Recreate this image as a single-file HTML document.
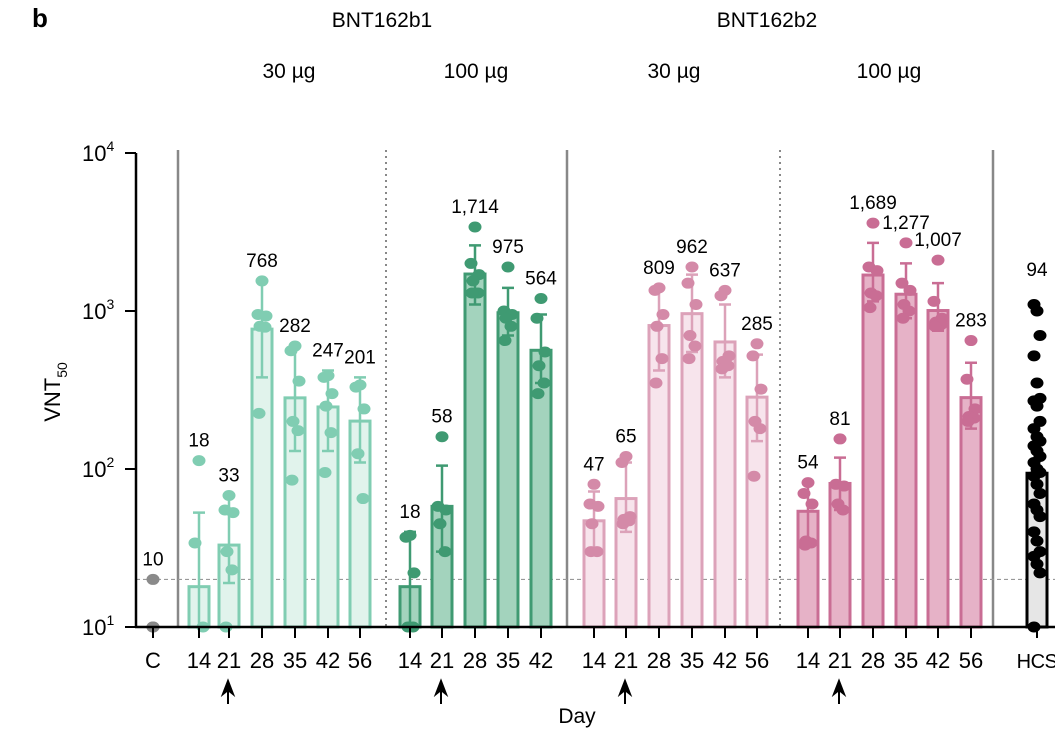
<!DOCTYPE html>
<html><head><meta charset="utf-8"><style>
body{margin:0;background:#fff}
svg{display:block;font-family:"Liberation Sans",Arial,sans-serif}
</style></head><body>
<svg id="chart" width="1055" height="737" viewBox="0 0 1055 737">
<text x="32" y="27" font-size="26" font-weight="bold">b</text>
<text x="382" y="27" font-size="21" text-anchor="middle">BNT162b1</text>
<text x="767" y="27" font-size="21" text-anchor="middle">BNT162b2</text>
<text x="289" y="78" font-size="21" text-anchor="middle">30 µg</text>
<text x="476" y="78" font-size="21" text-anchor="middle">100 µg</text>
<text x="674" y="78" font-size="21" text-anchor="middle">30 µg</text>
<text x="889" y="78" font-size="21" text-anchor="middle">100 µg</text>
<text transform="translate(60,392) rotate(-90)" font-size="22" text-anchor="middle">VNT<tspan font-size="14" dy="7">50</tspan></text>
<text x="577" y="723" font-size="21" text-anchor="middle">Day</text>
<g id="marks"></g>
</svg>
<script>
const categories=["C","14","21","28","35","42","56","14","21","28","35","42","14","21","28","35","42","56","14","21","28","35","42","56","HCS"];
const groups=[0,1,1,1,1,1,1,2,2,2,2,2,3,3,3,3,3,3,4,4,4,4,4,4,5];
const means=[10,18,33,768,282,247,201,18,58,1714,975,564,47,65,809,962,637,285,54,81,1689,1277,1007,283,94];
const meanLabels=["10","18","33","768","282","247","201","18","58","1,714","975","564","47","65","809","962","637","285","54","81","1,689","1,277","1,007","283","94"];
const errLow=[10,10,19,380,130,130,110,10,30,1100,700,350,30,40,420,550,380,150,35,55,1150,900,750,180,94];
const errHigh=[10,53,68,1550,600,420,380,40,105,2600,1400,950,72,110,1400,1700,1100,530,82,118,2700,2000,1500,470,94];
const dots=[[10,10,20],[113,34,10],[68,55,53,30,23,10],[1550,950,930,800,790,225],[600,560,360,200,175,85],[390,380,300,250,170,95],[340,330,240,125,65],
[38,37,22,10,10],[160,58,55,45,30],[3400,2000,1700,1550,1300,1300],[1900,1000,950,900,800,650],[1200,900,550,450,350,300],
[80,60,58,45,30,30],[120,110,50,48,47,45],[1400,1350,950,800,500,350],[1900,1500,1100,700,600,500],[1350,1250,520,480,450,430],[620,520,320,200,180,90],
[82,70,60,35,34,33],[155,80,78,60,55],[3600,1900,1800,1300,1250,1050],[2700,1500,1350,1100,1000,900],[2100,1150,900,850,820,800],[650,370,240,215,210,200],
[1100,1000,700,520,350,280,270,250,200,180,160,150,140,130,120,110,100,95,90,80,70,60,55,50,40,35,30,28,25,22,10]];
const yTicks=[10,100,1000,10000];
const yTickExp=["1","2","3","4"];
const arrowIdx=[2,8,13,19];
const limit=20;

const xs=[153,199,229,262,295,328,360,410,442,475,508,541,594,626,659,692,725,757,808,840,873,906,938,971,1037];
function xPos(i){return xs[i];}
function y(v){return 627-158*(Math.log10(v)-1);}
const stroke=["#8a8a8a","#80cdb2","#3f9a72","#dca2b9","#c96d94","#000"];
const fill=["none","#e1f3ec","#a3d3bd","#f7e4ec","#e6b2c7","#e6e6e6"];
const dotc=["#8a8a8a","#80cdb2","#3f9a72","#d48aa8","#c96d94","#000"];
const NS="http://www.w3.org/2000/svg";
const g=document.getElementById('marks');
function mk(t,a,parent){const e=document.createElementNS(NS,t);for(const k in a)e.setAttribute(k,a[k]);(parent||g).appendChild(e);return e;}

[[178,0],[386,1],[567,0],[780,1],[993,0]].forEach(s=>{
 const l=mk('line',{x1:s[0],x2:s[0],y1:150,y2:627,stroke:'#888','stroke-width':s[1]?2:2.5,'stroke-dasharray':s[1]?'2,4':'none'});
 
 
});
const lim=mk('line',{x1:136,x2:1055,y1:y(limit),y2:y(limit),stroke:'#999','stroke-width':1.2,'stroke-dasharray':'4,3'});



categories.forEach((c,i)=>{
 const gi=groups[i],x=xPos(i);
 if(gi!==0){
  const top=y(means[i]);
  const b=mk('rect',{x:x-10,y:top,width:20,height:627-top,fill:fill[gi],stroke:stroke[gi],'stroke-width':3});
  
  
 }
 if(errHigh[i]>errLow[i]){
  const e=mk('path',{d:`M${x},${y(errLow[i])}V${y(errHigh[i])}M${x-6},${y(errHigh[i])}H${x+6}`+(errLow[i]>10?`M${x-6},${y(errLow[i])}H${x+6}`:''),stroke:stroke[gi],'stroke-width':2.5,fill:'none'});
  
  
 }
 dots[i].forEach((v,j)=>{
  const off=gi===0?0:(gi===5?((j%3)-1)*3:[0,-4,4,-2,3,-3][j%6]);
  const d=mk('ellipse',{cx:x+off,cy:y(v),rx:6.5,ry:5.5,fill:dotc[gi]});
  
  
 });
 const lblY=Math.min(y(Math.max(errHigh[i],...dots[i])),y(means[i]))-14;
 const t=mk('text',{x:x,y:gi===5?y(1400)-12:lblY,'font-size':19,'text-anchor':'middle'});
 t.textContent=meanLabels[i];
 
 
 const tk=mk('line',{x1:x,x2:x,y1:627,y2:638,stroke:'#000','stroke-width':2});
 
 
 const tl=mk('text',{x:x,y:668,'font-size':gi===5?20:22,'text-anchor':'middle','letter-spacing':gi===5?-0.5:0});
 tl.textContent=c;
 
 
});
arrowIdx.forEach(i=>{
 const x=xPos(i)-1;
 const a=mk('path',{d:`M${x},704V688M${x-5},694L${x},681L${x+5},694L${x},690Z`,stroke:'#000','stroke-width':2,fill:'#000','stroke-linejoin':'miter'});
 
 
});
const ya=mk('line',{x1:136,x2:136,y1:153,y2:628,stroke:'#000','stroke-width':2.5});


const xa=mk('line',{x1:135,x2:1055,y1:627,y2:627,stroke:'#000','stroke-width':2.5});


yTicks.forEach((v,k)=>{
 const tk=mk('line',{x1:125,x2:136,y1:y(v),y2:y(v),stroke:'#000','stroke-width':2});
 
 
 const t=mk('text',{x:82,y:y(v)+8,'font-size':22});
 t.textContent='10';
 const s=mk('tspan',{'font-size':14,dy:-10},t);s.textContent=yTickExp[k];
 
 
});
</script>
</body></html>
